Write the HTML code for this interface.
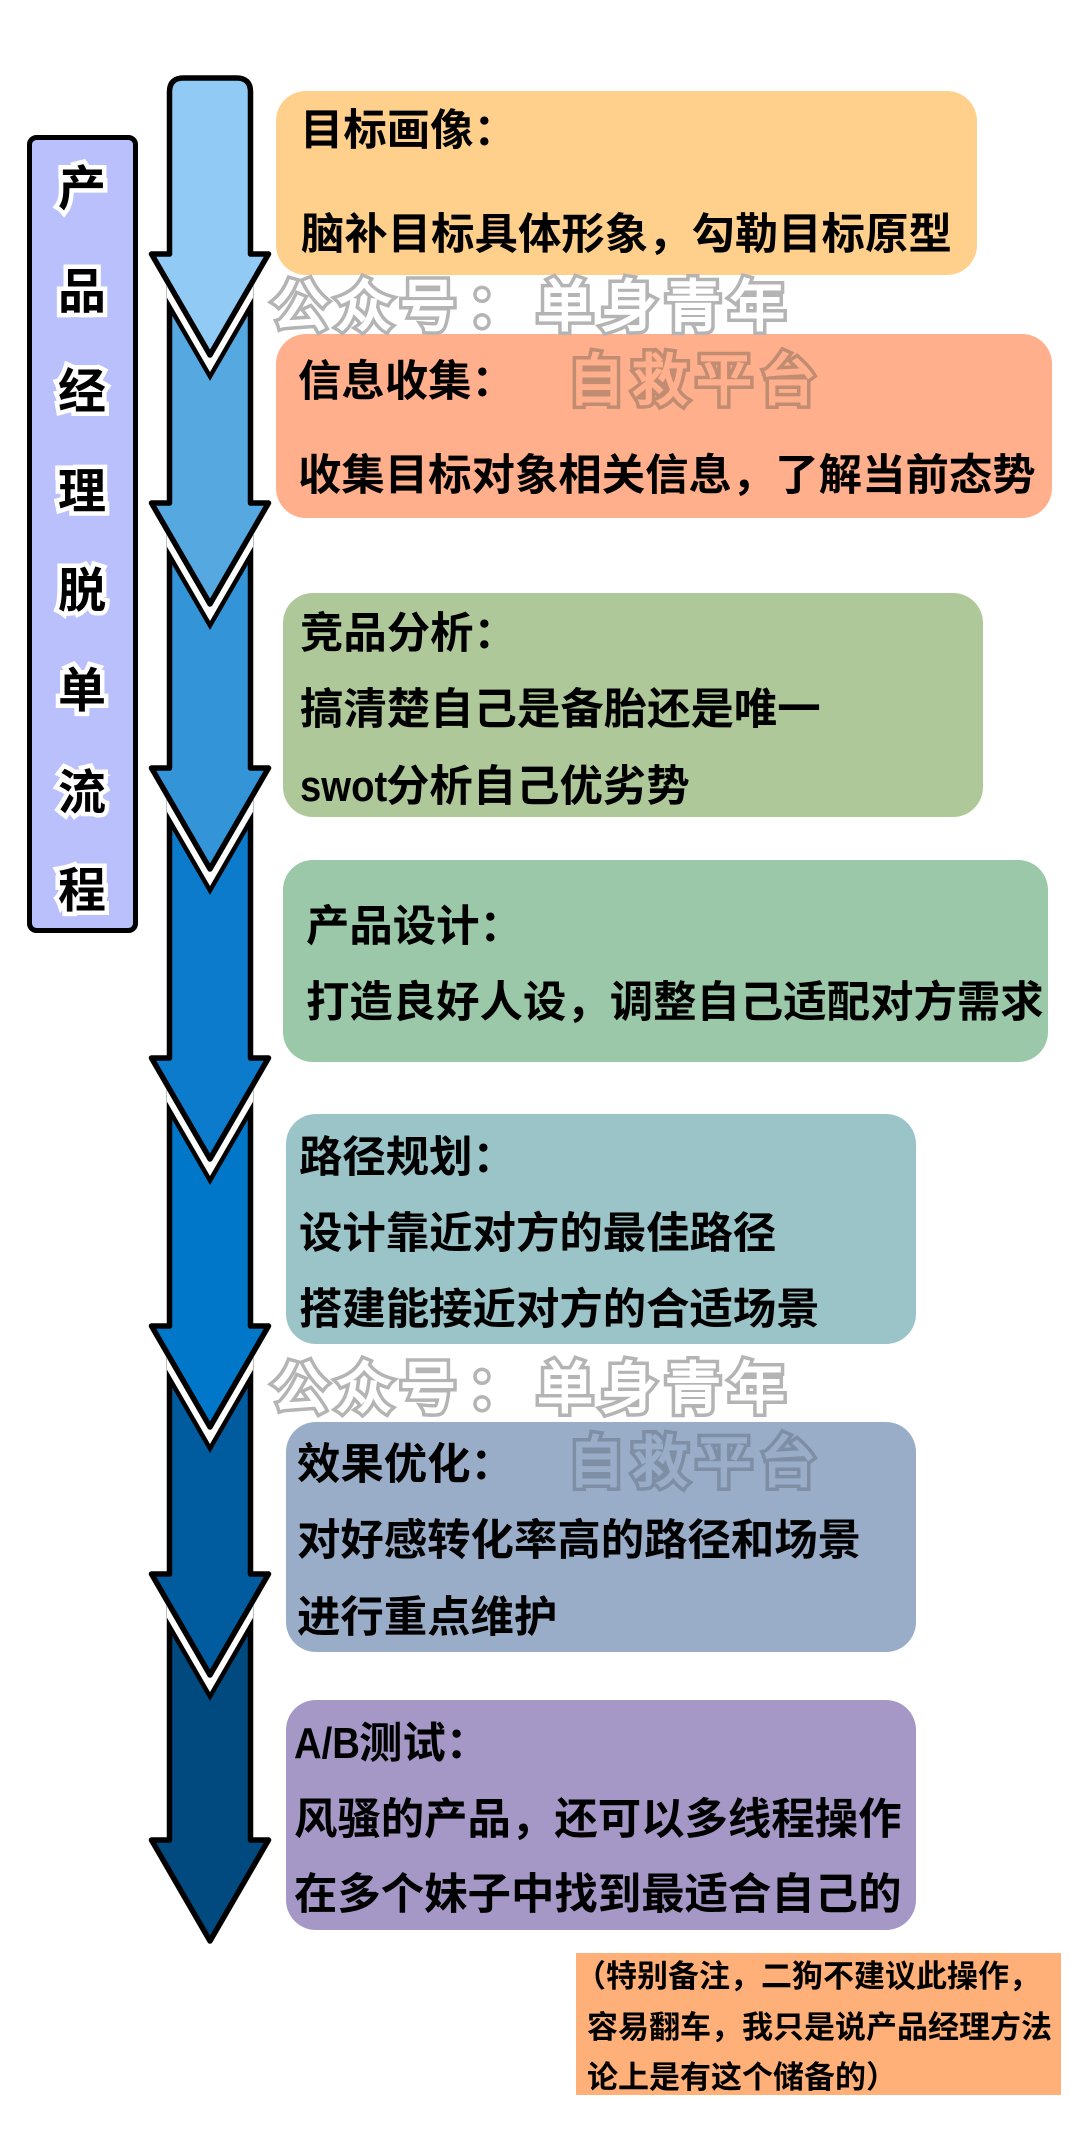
<!DOCTYPE html>
<html lang="zh">
<head>
<meta charset="utf-8">
<style>
html,body{margin:0;padding:0;background:#fff}
#p{position:relative;width:1080px;height:2140px;overflow:hidden;background:#fff;font-family:"Liberation Sans","WenQuanYi Zen Hei","Noto Sans CJK SC",sans-serif}
svg{position:absolute;left:0;top:0}
.c{position:absolute}
.t{position:absolute;white-space:nowrap;font-weight:bold;font-size:43.4px;line-height:50px;height:50px;color:#000;font-family:"WenQuanYi Zen Hei","Noto Sans CJK SC",sans-serif}
.n{font-size:31px;line-height:36px;height:36px}
.m{display:inline-block;font-family:"Liberation Sans",sans-serif;font-size:44px;transform-origin:left center;transform:scaleX(.87)}
.l{position:absolute;left:52px;width:60px;text-align:center;font-weight:bold;font-size:48px;line-height:50px;color:#000;font-family:"WenQuanYi Zen Hei","Noto Sans CJK SC",sans-serif;-webkit-text-stroke:9px #fff;paint-order:stroke fill}
.w,.v{position:absolute;white-space:nowrap;font-weight:normal;font-size:56px;line-height:60px;letter-spacing:8px;font-family:"WenQuanYi Zen Hei","Noto Sans CJK SC",sans-serif;paint-order:stroke fill}
.w{color:#b4b4b4;-webkit-text-stroke:9px #b4b4b4}
.v{color:#fff;-webkit-text-stroke:2px #fff}
.a{color:#c08c72;-webkit-text-stroke:9px #c08c72}
.b{color:#ffaf8c;-webkit-text-stroke:2px #ffaf8c}
.e{color:#7d8ea5;-webkit-text-stroke:9px #7d8ea5}
.f{color:#99adc8;-webkit-text-stroke:2px #99adc8}
</style>
</head>
<body>
<div id="p">
<svg width="1080" height="2140" viewBox="0 0 1080 2140">
<defs>
<clipPath id="s"><rect x="167" y="0" width="86" height="2140"/></clipPath>
</defs>
<g stroke-linejoin="round" stroke="#000" stroke-width="5.5">
<path d="M169.5 1600V1840H151.5L210 1941L268.5 1840H250.5V1600Z" fill="#004a80"/>
<g clip-path="url(#s)" fill="none" stroke-linejoin="miter" stroke-miterlimit="10">
<path d="M151.5 1574L210 1675L268.5 1574Z" stroke="#000" stroke-width="26"/>
<path d="M151.5 1574L210 1675L268.5 1574Z" stroke="#fff" stroke-width="17"/>
</g>
<path d="M169.5 1350V1574H151.5L210 1675L268.5 1574H250.5V1350Z" fill="#005c9e"/>
<g clip-path="url(#s)" fill="none" stroke-linejoin="miter" stroke-miterlimit="10">
<path d="M151.5 1326L210 1427L268.5 1326Z" stroke="#000" stroke-width="26"/>
<path d="M151.5 1326L210 1427L268.5 1326Z" stroke="#fff" stroke-width="17"/>
</g>
<path d="M169.5 1085V1326H151.5L210 1427L268.5 1326H250.5V1085Z" fill="#0077c8"/>
<g clip-path="url(#s)" fill="none" stroke-linejoin="miter" stroke-miterlimit="10">
<path d="M151.5 1058L210 1159L268.5 1058Z" stroke="#000" stroke-width="26"/>
<path d="M151.5 1058L210 1159L268.5 1058Z" stroke="#fff" stroke-width="17"/>
</g>
<path d="M169.5 795V1058H151.5L210 1159L268.5 1058H250.5V795Z" fill="#0d7bcb"/>
<g clip-path="url(#s)" fill="none" stroke-linejoin="miter" stroke-miterlimit="10">
<path d="M151.5 768L210 869L268.5 768Z" stroke="#000" stroke-width="26"/>
<path d="M151.5 768L210 869L268.5 768Z" stroke="#fff" stroke-width="17"/>
</g>
<path d="M169.5 530V768H151.5L210 869L268.5 768H250.5V530Z" fill="#3394d8"/>
<g clip-path="url(#s)" fill="none" stroke-linejoin="miter" stroke-miterlimit="10">
<path d="M151.5 503L210 604L268.5 503Z" stroke="#000" stroke-width="26"/>
<path d="M151.5 503L210 604L268.5 503Z" stroke="#fff" stroke-width="17"/>
</g>
<path d="M169.5 285V503H151.5L210 604L268.5 503H250.5V285Z" fill="#56a8e0"/>
<g clip-path="url(#s)" fill="none" stroke-linejoin="miter" stroke-miterlimit="10">
<path d="M151.5 254L210 355L268.5 254Z" stroke="#000" stroke-width="26"/>
<path d="M151.5 254L210 355L268.5 254Z" stroke="#fff" stroke-width="17"/>
</g>
<path d="M169.5 92Q169.5 78 183.5 78H236.5Q250.5 78 250.5 92V254H268.5L210 355L151.5 254H169.5Z" fill="#90caf5"/>
</g>
<rect x="29.5" y="137.5" width="106" height="793" rx="7" fill="#b9c0fb" stroke="#000" stroke-width="5"/>
</svg>

<div class="c" style="left:276px;top:91px;width:701px;height:184px;border-radius:30px;background:#ffd08c"></div>
<div class="c" style="left:276px;top:334px;width:776px;height:184px;border-radius:30px;background:#ffaf8c"></div>
<div class="c" style="left:283px;top:593px;width:700px;height:224px;border-radius:30px;background:#aec899"></div>
<div class="c" style="left:283px;top:860px;width:765px;height:202px;border-radius:30px;background:#9bc8a8"></div>
<div class="c" style="left:286px;top:1114px;width:630px;height:230px;border-radius:30px;background:#9bc4c8"></div>
<div class="c" style="left:286px;top:1422px;width:630px;height:230px;border-radius:30px;background:#99adc8"></div>
<div class="c" style="left:286px;top:1700px;width:630px;height:230px;border-radius:30px;background:#a597c6"></div>
<div class="c" style="left:576px;top:1953px;width:485px;height:142px;background:#ffaf78"></div>

<div class="l" style="top:159px">产</div>
<div class="l" style="top:262px">品</div>
<div class="l" style="top:362px">经</div>
<div class="l" style="top:462px">理</div>
<div class="l" style="top:561px">脱</div>
<div class="l" style="top:661px">单</div>
<div class="l" style="top:763px">流</div>
<div class="l" style="top:861px">程</div>

<div class="w" style="left:272px;top:273px">公众号</div>
<div class="w" style="left:468px;top:273px">：</div>
<div class="w" style="left:537px;top:273px">单身青年</div>
<div class="v" style="left:272px;top:273px">公众号</div>
<div class="v" style="left:468px;top:273px">：</div>
<div class="v" style="left:537px;top:273px">单身青年</div>
<div class="w a" style="left:568px;top:347px">自救平台</div>
<div class="v b" style="left:568px;top:347px">自救平台</div>
<div class="w" style="left:272px;top:1355px">公众号</div>
<div class="w" style="left:468px;top:1355px">：</div>
<div class="w" style="left:537px;top:1355px">单身青年</div>
<div class="v" style="left:272px;top:1355px">公众号</div>
<div class="v" style="left:468px;top:1355px">：</div>
<div class="v" style="left:537px;top:1355px">单身青年</div>
<div class="w e" style="left:568px;top:1429px">自救平台</div>
<div class="v f" style="left:568px;top:1429px">自救平台</div>

<div class="t" style="left:300px;top:102px">目标画像：</div>
<div class="t" style="left:301px;top:206px">脑补目标具体形象，勾勒目标原型</div>
<div class="t" style="left:298px;top:353px">信息收集：</div>
<div class="t" style="left:298px;top:447px">收集目标对象相关信息，了解当前态势</div>
<div class="t" style="left:300px;top:605px">竞品分析：</div>
<div class="t" style="left:300px;top:681px">搞清楚自己是备胎还是唯一</div>
<div class="t" style="left:300px;top:758px"><span class="m" style="width:86px">swot</span>分析自己优劣势</div>
<div class="t" style="left:306px;top:898px">产品设计：</div>
<div class="t" style="left:306px;top:974px">打造良好人设，调整自己适配对方需求</div>
<div class="t" style="left:299px;top:1129px">路径规划：</div>
<div class="t" style="left:299px;top:1205px">设计靠近对方的最佳路径</div>
<div class="t" style="left:299px;top:1281px">搭建能接近对方的合适场景</div>
<div class="t" style="left:297px;top:1436px">效果优化：</div>
<div class="t" style="left:297px;top:1512px">对好感转化率高的路径和场景</div>
<div class="t" style="left:297px;top:1589px">进行重点维护</div>
<div class="t" style="left:294px;top:1715px"><span class="m" style="width:65px">A/B</span>测试：</div>
<div class="t" style="left:294px;top:1791px">风骚的产品，还可以多线程操作</div>
<div class="t" style="left:294px;top:1866px">在多个妹子中找到最适合自己的</div>

<div class="t n" style="left:575px;top:1956px">（特别备注，二狗不建议此操作，</div>
<div class="t n" style="left:587px;top:2007px">容易翻车，我只是说产品经理方法</div>
<div class="t n" style="left:587px;top:2057px">论上是有这个储备的）</div>
</div>
</body>
</html>
